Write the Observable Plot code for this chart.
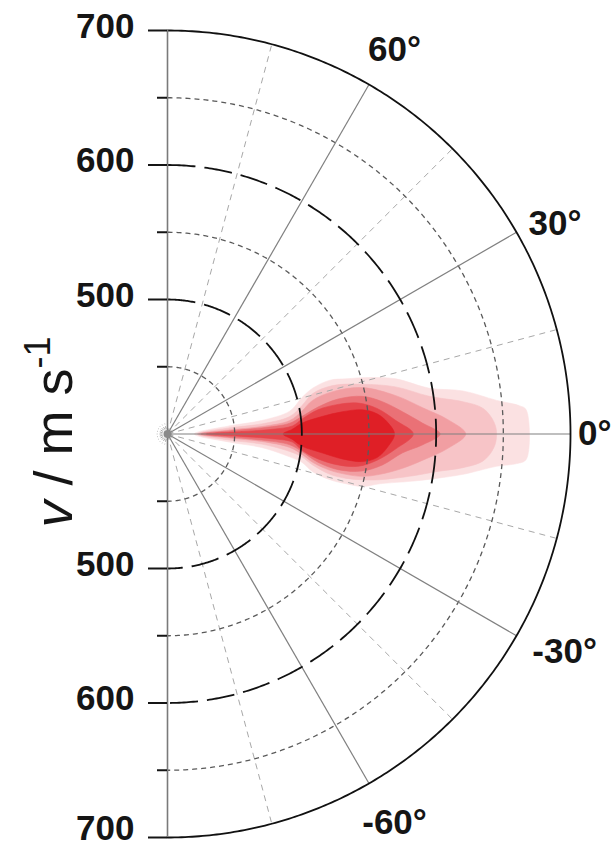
<!DOCTYPE html>
<html>
<head>
<meta charset="utf-8">
<script src="https://cdn.jsdelivr.net/npm/d3@7"></script>
<script src="https://cdn.jsdelivr.net/npm/@observablehq/plot@0.6"></script>
<style>
  html, body { margin: 0; padding: 0; background: #fff; }
  #chart { position: relative; width: 611px; height: 847px; overflow: hidden; }
  #chart svg { display: block; }
</style>
</head>
<body>
<div id="chart"></div>
<script>
// ---------- data ----------
// radial axis: speed v (m/s); the pole of the half-polar plot is at 400 m/s
const vCenter = 400;
const vOuter = 700;
const radialTickLabels = [500, 600, 700];
const radialMinorTicks = [450, 550, 650];
const dashedCircles = [500, 600];
const dottedCircles = [450, 550, 650];
const solidSpokes = [60, 30, 0, -30, -60];
const dashedSpokes = [75, 45, 15, -15, -45, -75];
const angleLabels = [60, 30, 0, -30, -60];

// density contours: [v along 0° (m/s), transverse offset (m/s, + = upward)]
const contour1 = [[420,0],[446,6],[470,10],[491,17],[500,27],[508,34],[521,40],[533,41],[550,42],[570,41],[595,34],[620,32],[645,25],[662,21],[667,18],[667,-19],[660,-22],[645,-24],[620,-30],[600,-33],[583,-35],[558,-37],[545,-39],[533,-37],[521,-34],[508,-28],[500,-21],[491,-17],[470,-10],[446,-6]];
const contour2 = [[422,0],[446,4.5],[470,7.5],[491,13],[500,21],[508,30],[523,36],[545,37],[570,35],[595,28],[620,24],[635,19],[643,9],[645,0],[643,-10],[635,-20],[620,-25],[600,-28],[583,-31],[558,-34],[545,-34],[533,-33],[521,-30],[508,-23],[500,-17],[491,-13],[470,-7.5],[446,-4.5]];
const contour3 = [[423,0],[446,3],[470,5.5],[491,10],[500,17],[508,25],[523,31.5],[545,34.5],[570,28.5],[590,19.5],[609,10.5],[622,0],[609,-10.5],[590,-19.5],[575,-25.5],[558,-30],[545,-31.5],[533,-30],[521,-27],[508,-21],[500,-15],[491,-10],[470,-5.5],[446,-3]];
const contour4 = [[425,0],[448,2.5],[470,4.5],[491,8],[500,13],[512,20],[527,26],[545,28],[560,24],[575,16.5],[590,8],[603,0],[590,-8],[575,-14],[560,-23],[545,-27.5],[527,-26.5],[512,-21],[500,-13],[491,-8],[470,-4.5],[448,-2.5]];
const contour5 = [[429,0],[455,1.8],[478,3.5],[493,6],[500,11],[512,18],[527,22],[542,23],[556,19],[570,10],[583,0],[570,-11],[556,-19.5],[542,-24],[527,-23],[512,-18.5],[500,-12],[493,-6],[478,-3.5],[455,-1.8]];
const contour6 = [[486,0],[493,3.5],[500,8],[515,13],[530,16.5],[545,18],[556,15],[564,8.5],[569,0],[564,-9.5],[556,-17.5],[545,-20.5],[530,-18.5],[515,-14],[500,-9],[493,-4]];
const contours = [contour1, contour2, contour3, contour4, contour5, contour6];

// ---------- styling / layout ----------
const contourColors = ["#fbe1e2", "#f7c4c7", "#f19ea2", "#ea7176", "#e5454b", "#df1f26"];
const labelRadius = [332, 328, 318, 337, 335];   // layout: radius (axis units) of angle labels
const labelNudge = [-0.6, -1.6, 0, 1.3, 0.3];    // layout: small angular nudge (deg)
const FONT = "'Liberation Sans', Arial, Helvetica, sans-serif";

// ---------- helpers ----------
const rad = d => d * Math.PI / 180;
const rho = v => v - vCenter;
const R = rho(vOuter);
function arcPoints(v) {
  const pts = [];
  for (let a = 90; a >= -90; a -= 0.5) pts.push({x: rho(v) * Math.cos(rad(a)), y: rho(v) * Math.sin(rad(a)), v});
  return pts;
}
const contourPts = contours.map(c => c.map(([v, w]) => ({x: rho(v), y: w})));
const burstAngles = d3.range(105, 256, 15);

const marks = [];
contourPts.forEach((pts, i) => {
  marks.push(Plot.line(pts, {x: "x", y: "y", fill: contourColors[i], stroke: contourColors[i], strokeWidth: 0.6, curve: "catmull-rom-closed"}));
});
// grid: dashed (light) spokes
marks.push(Plot.link(dashedSpokes, {x1: 0, y1: 0, x2: a => R * Math.cos(rad(a)), y2: a => R * Math.sin(rad(a)), stroke: "#a8a8a8", strokeWidth: 1, strokeDasharray: "6,5"}));
// short burst at pole
marks.push(Plot.link(burstAngles, {x1: 0, y1: 0, x2: a => 8 * Math.cos(rad(a)), y2: a => 8 * Math.sin(rad(a)), stroke: "#aaa", strokeWidth: 1, strokeDasharray: "3,2"}));
// dotted circles
marks.push(Plot.line(dottedCircles.flatMap(arcPoints), {x: "x", y: "y", z: "v", stroke: "#5a5a5a", strokeWidth: 1.3, strokeDasharray: "5,4", strokeLinecap: "butt"}));
// solid spokes
marks.push(Plot.link(solidSpokes, {x1: 0, y1: 0, x2: a => R * Math.cos(rad(a)), y2: a => R * Math.sin(rad(a)), stroke: "#808080", strokeWidth: 1.2}));
// long-dashed circles
marks.push(Plot.line(dashedCircles.flatMap(arcPoints), {x: "x", y: "y", z: "v", stroke: "#111", strokeWidth: 1.8, strokeDasharray: "28,9", strokeLinecap: "butt"}));
// outer circle
marks.push(Plot.line(arcPoints(vOuter), {x: "x", y: "y", stroke: "#111", strokeWidth: 1.8}));
// vertical axis line
marks.push(Plot.ruleX([0], {y1: -R, y2: R, stroke: "#7a7a7a", strokeWidth: 1.6}));
// pole dot
marks.push(Plot.dot([vCenter], {x: () => 0, y: () => 0, r: 4, fill: "#8a8a8a", stroke: "none"}));
// radial axis ticks (both halves)
const majorRho = radialTickLabels.flatMap(v => [rho(v), -rho(v)]);
const minorRho = radialMinorTicks.flatMap(v => [rho(v), -rho(v)]);
const tickFmt = d => String(vCenter + Math.abs(d));
marks.push(Plot.axisY(majorRho, {anchor: "left", tickSize: 19, tickFormat: () => "", strokeWidth: 2, color: "#151515", label: null}));
marks.push(Plot.axisY(minorRho, {anchor: "left", tickSize: 10, tickFormat: () => "", strokeWidth: 2, color: "#151515", label: null}));
const labelStyle = {x: () => 0, y: d => d, text: tickFmt, textAnchor: "end", lineAnchor: "middle", dx: -33,
  fontSize: 35, fontWeight: "bold", fontFamily: FONT, fill: "#151515"};
marks.push(Plot.text(majorRho.filter(d => d > -R), {...labelStyle, dy: -4}));
marks.push(Plot.text(majorRho.filter(d => d === -R), {...labelStyle, dy: -9}));
// angle labels
marks.push(Plot.text(angleLabels, {
  x: (a, i) => labelRadius[i] * Math.cos(rad(a + labelNudge[i])),
  y: (a, i) => labelRadius[i] * Math.sin(rad(a + labelNudge[i])),
  text: a => `${a}°`, fontSize: 35, fontWeight: "bold", fontFamily: FONT, fill: "#151515", textAnchor: "middle", lineAnchor: "middle"
}));

const plot = Plot.plot({
  width: 611,
  height: 847,
  marginLeft: 167,
  marginRight: 41,
  marginTop: 30,
  marginBottom: 10,
  x: {domain: [0, R], axis: null},
  y: {domain: [-R, R], axis: null},
  style: {background: "#fff", fontFamily: FONT, overflow: "visible"},
  marks
});
document.getElementById("chart").appendChild(plot);

// rotated axis title "v / m s⁻¹"
const svg = d3.select(plot);
const title = svg.append("text")
  .attr("transform", "translate(72,432) rotate(-90)")
  .attr("text-anchor", "middle")
  .attr("font-family", FONT)
  .attr("font-size", 54)
  .attr("fill", "#151515");
title.append("tspan").attr("font-style", "italic").text("v");
title.append("tspan").text(" / m s");
title.append("tspan").attr("font-size", 36).attr("dy", -22).text("-1");
</script>
</body>
</html>
